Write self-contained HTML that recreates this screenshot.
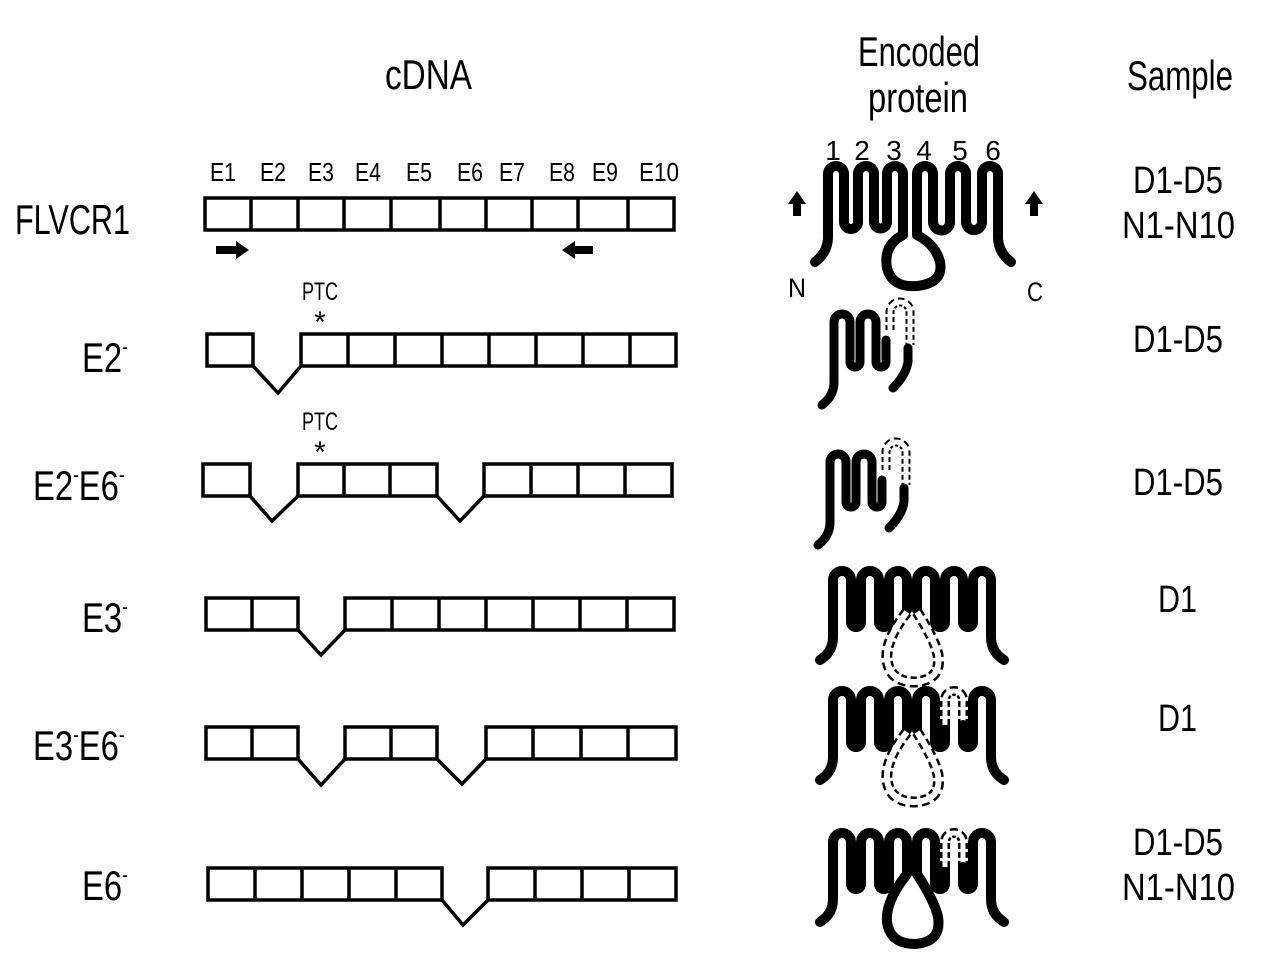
<!DOCTYPE html>
<html><head><meta charset="utf-8"><style>
html,body{margin:0;padding:0;background:#fff;}
svg{display:block;}
text{font-family:"Liberation Sans Narrow","Liberation Sans",sans-serif;fill:#000;}
.t{font-size:42px;}
.ex{font-size:26px;}
.lab{font-size:42px;}
.s{font-size:38px;}
.b{fill:#fff;stroke:#000;stroke-width:3.5;}
.v{fill:none;stroke:#000;stroke-width:3.5;stroke-linejoin:miter;}
.p{fill:none;stroke:#000;stroke-linecap:round;stroke-linejoin:round;}
</style></head><body>
<svg width="1280" height="971" viewBox="0 0 1280 971" xmlns="http://www.w3.org/2000/svg">
<!-- headers -->
<text class="t" x="385" y="89" textLength="87" lengthAdjust="spacingAndGlyphs">cDNA</text>
<text class="t" x="858" y="66" textLength="122" lengthAdjust="spacingAndGlyphs">Encoded</text>
<text class="t" x="868" y="112" textLength="100" lengthAdjust="spacingAndGlyphs">protein</text>
<text class="t" x="1127" y="90" textLength="106" lengthAdjust="spacingAndGlyphs">Sample</text>

<!-- row labels -->
<text class="lab" x="15" y="234" textLength="115" lengthAdjust="spacingAndGlyphs">FLVCR1</text>
<g transform="translate(82,0) scale(0.78,1)"><text class="lab" x="0" y="372">E2<tspan font-size="22" dy="-18">-</tspan></text></g>
<g transform="translate(33,0) scale(0.78,1)"><text class="lab" x="0" y="500">E2<tspan font-size="22" dy="-18">-</tspan><tspan dy="18">E6</tspan><tspan font-size="22" dy="-18">-</tspan></text></g>
<g transform="translate(82,0) scale(0.78,1)"><text class="lab" x="0" y="632">E3<tspan font-size="22" dy="-18">-</tspan></text></g>
<g transform="translate(33,0) scale(0.78,1)"><text class="lab" x="0" y="760">E3<tspan font-size="22" dy="-18">-</tspan><tspan dy="18">E6</tspan><tspan font-size="22" dy="-18">-</tspan></text></g>
<g transform="translate(82,0) scale(0.78,1)"><text class="lab" x="0" y="900">E6<tspan font-size="22" dy="-18">-</tspan></text></g>

<!-- exon labels -->
<g class="ex">
<text x="210" y="181" textLength="26" lengthAdjust="spacingAndGlyphs">E1</text>
<text x="260" y="181" textLength="26" lengthAdjust="spacingAndGlyphs">E2</text>
<text x="308" y="181" textLength="26" lengthAdjust="spacingAndGlyphs">E3</text>
<text x="355" y="181" textLength="26" lengthAdjust="spacingAndGlyphs">E4</text>
<text x="406" y="181" textLength="26" lengthAdjust="spacingAndGlyphs">E5</text>
<text x="457" y="181" textLength="26" lengthAdjust="spacingAndGlyphs">E6</text>
<text x="499" y="181" textLength="26" lengthAdjust="spacingAndGlyphs">E7</text>
<text x="549" y="181" textLength="26" lengthAdjust="spacingAndGlyphs">E8</text>
<text x="592" y="181" textLength="26" lengthAdjust="spacingAndGlyphs">E9</text>
<text x="639" y="181" textLength="40" lengthAdjust="spacingAndGlyphs">E10</text>
</g>

<!-- FLVCR1 row -->
<rect class="b" x="205" y="198" width="469" height="32"/>
<g stroke="#000" stroke-width="3.5">
<line x1="251" y1="198" x2="251" y2="230"/><line x1="298" y1="198" x2="298" y2="230"/>
<line x1="344" y1="198" x2="344" y2="230"/><line x1="391" y1="198" x2="391" y2="230"/>
<line x1="440" y1="198" x2="440" y2="230"/><line x1="486" y1="198" x2="486" y2="230"/>
<line x1="532" y1="198" x2="532" y2="230"/><line x1="578" y1="198" x2="578" y2="230"/>
<line x1="628" y1="198" x2="628" y2="230"/>
</g>
<polygon points="216,246 236,246 236,241 249,250 236,259 236,254 216,254"/>
<polygon points="593,246 575,246 575,241 562,250 575,259 575,254 593,254"/>

<!-- E2- row -->
<text x="302" y="300" font-size="25" textLength="36" lengthAdjust="spacingAndGlyphs">PTC</text>
<text x="320" y="332" font-size="30" text-anchor="middle">*</text>
<rect class="b" x="207" y="334" width="46" height="32"/>
<polyline class="v" points="253,366 278,393 301,366"/>
<rect class="b" x="301" y="334" width="375" height="32"/>
<g stroke="#000" stroke-width="3.5">
<line x1="348" y1="334" x2="348" y2="366"/><line x1="395" y1="334" x2="395" y2="366"/>
<line x1="442" y1="334" x2="442" y2="366"/><line x1="489" y1="334" x2="489" y2="366"/>
<line x1="536" y1="334" x2="536" y2="366"/><line x1="583" y1="334" x2="583" y2="366"/>
<line x1="630" y1="334" x2="630" y2="366"/>
</g>

<!-- E2-E6- row -->
<text x="302" y="430" font-size="25" textLength="36" lengthAdjust="spacingAndGlyphs">PTC</text>
<text x="320" y="462" font-size="30" text-anchor="middle">*</text>
<rect class="b" x="203" y="464" width="47" height="32"/>
<polyline class="v" points="250,496 272,521 298,496"/>
<rect class="b" x="298" y="464" width="139" height="32"/>
<g stroke="#000" stroke-width="3.5">
<line x1="344" y1="464" x2="344" y2="496"/><line x1="390" y1="464" x2="390" y2="496"/>
</g>
<polyline class="v" points="437,496 460,521 484,496"/>
<rect class="b" x="484" y="464" width="188" height="32"/>
<g stroke="#000" stroke-width="3.5">
<line x1="531" y1="464" x2="531" y2="496"/><line x1="578" y1="464" x2="578" y2="496"/>
<line x1="625" y1="464" x2="625" y2="496"/>
</g>

<!-- E3- row -->
<rect class="b" x="206" y="598" width="92" height="32"/>
<line x1="252" y1="598" x2="252" y2="630" stroke="#000" stroke-width="3.5"/>
<polyline class="v" points="298,630 321,655 345,630"/>
<rect class="b" x="345" y="598" width="329" height="32"/>
<g stroke="#000" stroke-width="3.5">
<line x1="392" y1="598" x2="392" y2="630"/><line x1="439" y1="598" x2="439" y2="630"/>
<line x1="486" y1="598" x2="486" y2="630"/><line x1="533" y1="598" x2="533" y2="630"/>
<line x1="580" y1="598" x2="580" y2="630"/><line x1="627" y1="598" x2="627" y2="630"/>
</g>

<!-- E3-E6- row -->
<rect class="b" x="206" y="727" width="92" height="32"/>
<line x1="252" y1="727" x2="252" y2="759" stroke="#000" stroke-width="3.5"/>
<polyline class="v" points="298,759 321,785 345,759"/>
<rect class="b" x="345" y="727" width="92" height="32"/>
<line x1="391" y1="727" x2="391" y2="759" stroke="#000" stroke-width="3.5"/>
<polyline class="v" points="437,759 462,784 486,759"/>
<rect class="b" x="486" y="727" width="190" height="32"/>
<g stroke="#000" stroke-width="3.5">
<line x1="533" y1="727" x2="533" y2="759"/><line x1="581" y1="727" x2="581" y2="759"/>
<line x1="628" y1="727" x2="628" y2="759"/>
</g>

<!-- E6- row -->
<rect class="b" x="208" y="868" width="234" height="32"/>
<g stroke="#000" stroke-width="3.5">
<line x1="255" y1="868" x2="255" y2="900"/><line x1="302" y1="868" x2="302" y2="900"/>
<line x1="349" y1="868" x2="349" y2="900"/><line x1="396" y1="868" x2="396" y2="900"/>
</g>
<polyline class="v" points="442,900 463,925 488,900"/>
<rect class="b" x="488" y="868" width="188" height="32"/>
<g stroke="#000" stroke-width="3.5">
<line x1="535" y1="868" x2="535" y2="900"/><line x1="582" y1="868" x2="582" y2="900"/>
<line x1="629" y1="868" x2="629" y2="900"/>
</g>

<!-- FLVCR1 protein -->
<g font-size="28" text-anchor="middle">
<text x="833" y="160">1</text><text x="862" y="160">2</text><text x="894" y="160">3</text>
<text x="924" y="160">4</text><text x="960" y="160">5</text><text x="993" y="160">6</text>
</g>
<path class="p" stroke-width="10" d="M815,262 Q828,252 828,237 L828,174 A8,8 0 0 1 844,174 L844,222 A7,7 0 0 0 858,222 L858,174 A8,8 0 0 1 874,174 L874,222 A6.5,6.5 0 0 0 887,222 L887,174 A8,8 0 0 1 903,174 L903,235 Q883,245 887,268 Q892,288 917,286 Q944,283 940,262 Q936,245 917,235 L917,174 A8,8 0 0 1 933,174 L933,222 A8.5,8.5 0 0 0 950,222 L950,174 A8,8 0 0 1 966,174 L966,222 A8,8 0 0 0 982,222 L982,174 A8,8 0 0 1 998,174 L998,237 Q998,252 1011,262"/>
<polygon points="793,216 793,204 788,204 797,191 806,204 801,204 801,216"/>
<polygon points="1030,216 1030,204 1025,204 1034,191 1043,204 1038,204 1038,216"/>
<text x="788" y="297" font-size="27" textLength="18" lengthAdjust="spacingAndGlyphs">N</text>
<text x="1027" y="301" font-size="27" textLength="16" lengthAdjust="spacingAndGlyphs">C</text>

<!-- E2- protein -->
<g id="tr">
<path class="p" stroke-width="9" d="M822,405 Q834,396 834,382 L834,322 A8,8 0 0 1 850,322 L850,362 A5,5 0 0 0 860,362 L860,322 A8,8 0 0 1 876,322 L876,362 A5,5 0 0 0 886,362 L886,340"/>
<path d="M890,330 L890,312 A10,10 0 0 1 910,312 L910,345" fill="none" stroke="#000" stroke-width="9" stroke-dasharray="5,3"/>
<path d="M890,330 L890,312 A10,10 0 0 1 910,312 L910,345" fill="none" stroke="#fff" stroke-width="5"/>
<path class="p" stroke-width="9" d="M908,348 L908,362 Q906,375 893,388"/>
</g>
<use href="#tr" transform="translate(-4,140)"/>

<!-- E3- protein -->
<path class="p" stroke-width="10" d="M820,660 Q833,652 833,637 L833,580 A9,9 0 0 1 851,580 L851,622 A5,5 0 0 0 861,622 L861,580 A9,9 0 0 1 879,580 L879,622 A5,5 0 0 0 889,622 L889,580 A9,9 0 0 1 907,580 L907,610"/>
<path class="p" stroke-width="10" d="M917,610 L917,580 A9,9 0 0 1 935,580 L935,622 A5,5 0 0 0 945,622 L945,580 A9,9 0 0 1 963,580 L963,622 A5,5 0 0 0 973,622 L973,580 A9,9 0 0 1 991,580 L991,637 Q991,652 1004,660"/>
<path d="M907,612 Q885,640 887,660 Q890,682 915,682 Q942,680 938,655 Q935,640 917,612" fill="none" stroke="#000" stroke-width="11" stroke-dasharray="7,4"/>
<path d="M907,612 Q885,640 887,660 Q890,682 915,682 Q942,680 938,655 Q935,640 917,612" fill="none" stroke="#fff" stroke-width="6"/>

<!-- E3-E6- protein -->
<g transform="translate(0,120)">
<path class="p" stroke-width="10" d="M820,660 Q833,652 833,637 L833,580 A9,9 0 0 1 851,580 L851,622 A5,5 0 0 0 861,622 L861,580 A9,9 0 0 1 879,580 L879,622 A5,5 0 0 0 889,622 L889,580 A9,9 0 0 1 907,580 L907,610"/>
<path class="p" stroke-width="10" d="M917,610 L917,580 A9,9 0 0 1 935,580 L935,622 A5,5 0 0 0 945,622 L945,605"/>
<path d="M945,605 L945,580 A9,9 0 0 1 963,580 L963,605" fill="none" stroke="#000" stroke-width="10" stroke-dasharray="6,3"/>
<path d="M945,605 L945,580 A9,9 0 0 1 963,580 L963,605" fill="none" stroke="#fff" stroke-width="5"/>
<path class="p" stroke-width="10" d="M963,605 L963,622 A5,5 0 0 0 973,622 L973,580 A9,9 0 0 1 991,580 L991,637 Q991,652 1004,660"/>
<path d="M907,612 Q885,640 887,660 Q890,682 915,682 Q942,680 938,655 Q935,640 917,612" fill="none" stroke="#000" stroke-width="11" stroke-dasharray="7,4"/>
<path d="M907,612 Q885,640 887,660 Q890,682 915,682 Q942,680 938,655 Q935,640 917,612" fill="none" stroke="#fff" stroke-width="6"/>
</g>

<!-- E6- protein -->
<g transform="translate(0,262)">
<path class="p" stroke-width="10" d="M820,660 Q833,652 833,637 L833,580 A9,9 0 0 1 851,580 L851,622 A5,5 0 0 0 861,622 L861,580 A9,9 0 0 1 879,580 L879,622 A5,5 0 0 0 889,622 L889,580 A9,9 0 0 1 907,580 L907,612 Q885,640 887,660 Q890,682 915,682 Q942,680 938,655 Q935,640 917,612 L917,580 A9,9 0 0 1 935,580 L935,622 A5,5 0 0 0 945,622 L945,605"/>
<path d="M945,605 L945,580 A9,9 0 0 1 963,580 L963,605" fill="none" stroke="#000" stroke-width="10" stroke-dasharray="6,3"/>
<path d="M945,605 L945,580 A9,9 0 0 1 963,580 L963,605" fill="none" stroke="#fff" stroke-width="5"/>
<path class="p" stroke-width="10" d="M963,605 L963,622 A5,5 0 0 0 973,622 L973,580 A9,9 0 0 1 991,580 L991,637 Q991,652 1004,660"/>
</g>

<!-- samples -->
<g class="s">
<text x="1133" y="193" textLength="90" lengthAdjust="spacingAndGlyphs">D1-D5</text>
<text x="1122" y="238" textLength="113" lengthAdjust="spacingAndGlyphs">N1-N10</text>
<text x="1133" y="352" textLength="90" lengthAdjust="spacingAndGlyphs">D1-D5</text>
<text x="1133" y="495" textLength="90" lengthAdjust="spacingAndGlyphs">D1-D5</text>
<text x="1158" y="612" textLength="39" lengthAdjust="spacingAndGlyphs">D1</text>
<text x="1158" y="731" textLength="39" lengthAdjust="spacingAndGlyphs">D1</text>
<text x="1133" y="855" textLength="90" lengthAdjust="spacingAndGlyphs">D1-D5</text>
<text x="1122" y="900" textLength="113" lengthAdjust="spacingAndGlyphs">N1-N10</text>
</g>
</svg>
</body></html>
